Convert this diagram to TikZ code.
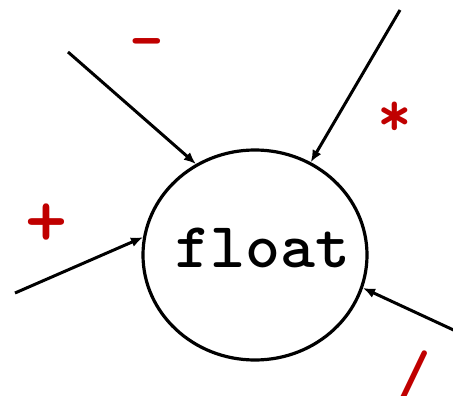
\documentclass[tikz,border=0pt]{standalone}
\usepackage{fontspec}
\usetikzlibrary{shapes.geometric,arrows.meta}
\definecolor{opred}{HTML}{C00000}
\newcommand{\heavytt}[1]{\fontsize{#1}{#1}\selectfont\ttfamily\bfseries\addfontfeatures{FakeBold=3}}
\begin{document}
\begin{tikzpicture}[x=1pt,y=-1pt,
  conn/.style={line width=3pt,-{Latex[length=12pt,width=10pt]}},
  oplabel/.style={text=opred,font=\heavytt{66},inner sep=0pt},
  typebox/.style={draw,line width=3.2pt,ellipse,minimum width=224pt,minimum height=210pt,inner sep=0pt}]
\useasboundingbox (0,0) rectangle (453,396);
\node[typebox] (f) at (255,255) {};
\node[font=\heavytt{64},anchor=base,inner sep=0pt,xscale=1.04] (ft) at (263,267) {float};
\coordinate (s1) at (68,52);
\coordinate (s2) at (400,10);
\coordinate (s3) at (15,293);
\coordinate (s4) at (460,333);
\draw[conn] (s1) -- (f.123.5);
\draw[conn] (s2) -- (f.59.9);
\draw[conn] (s3) -- (f.171);
\draw[conn] (s4) -- (f.-17);
\node[oplabel] (lminus) at (147,50) {-};
\node[oplabel] (ltimes) at (395,119) {*};
\node[oplabel,font=\heavytt{80}] (lplus) at (47,225) {+};
\node[oplabel] (ldiv) at (414,376) {/};
\end{tikzpicture}
\end{document}
